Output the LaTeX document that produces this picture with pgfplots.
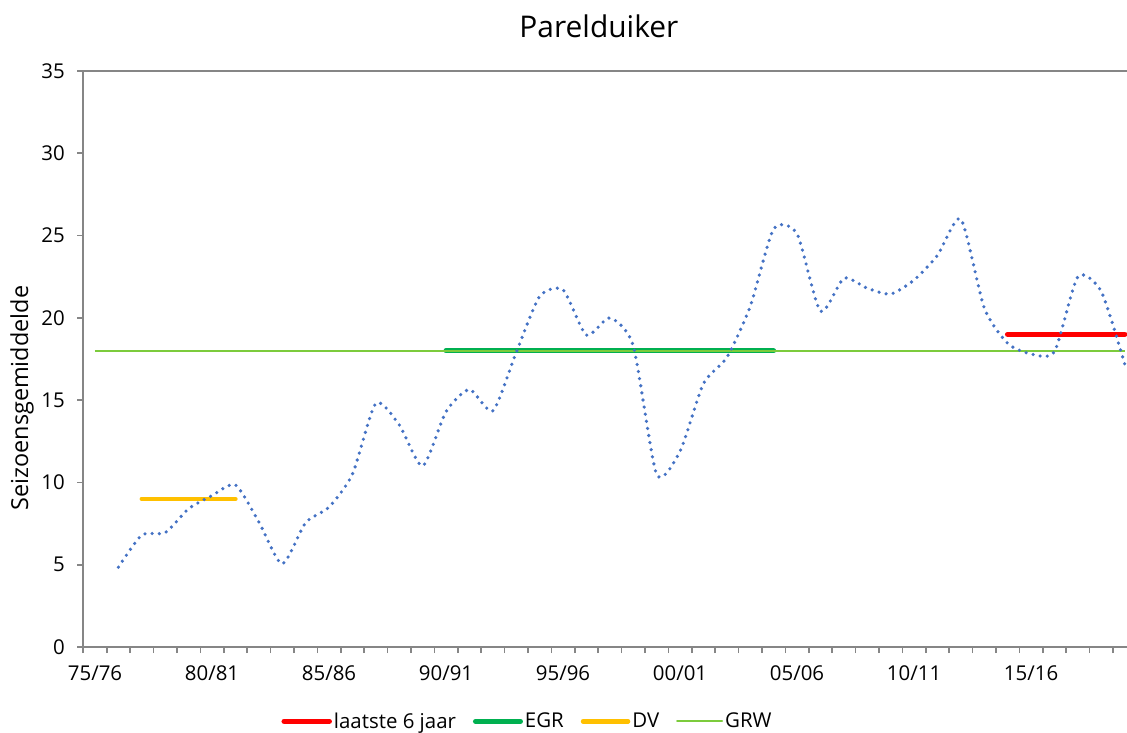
\documentclass[border=0pt]{standalone}
\usepackage{pgfplots}
\pgfplotsset{compat=1.18}
\usepackage{fontspec}
\setmainfont{Open Sans}
\definecolor{axgray}{HTML}{868686}
\definecolor{sblue}{HTML}{4472C4}
\definecolor{egr}{HTML}{00B050}
\definecolor{dv}{HTML}{FFC000}
\definecolor{grw}{HTML}{7CCB3C}
\begin{document}
\begin{tikzpicture}
\useasboundingbox (-83.3bp,-86bp) rectangle (1043.7bp,647bp);
\begin{axis}[
  at={(0,0)}, anchor=south west,
  width=1043.7bp, height=576bp, scale only axis,
  xmin=-0.5, xmax=44.1, ymin=0, ymax=35,
  axis x line*=bottom, axis y line*=left,
  x axis line style={-}, y axis line style={-},
  axis line style={axgray, line width=1.8bp},
  tick align=outside,
  every tick/.style={axgray, line width=1.6bp},
  major tick length=6bp, minor tick length=6bp,
  ytick={0,5,...,35},
  xtick={0,5,10,15,20,25,30,35,40},
  xticklabels={75/76,80/81,85/86,90/91,95/96,00/01,05/06,10/11,15/16},
  minor xtick={-0.5,0.5,1.5,2.5,3.5,4.5,5.5,6.5,7.5,8.5,9.5,10.5,11.5,12.5,13.5,14.5,15.5,16.5,17.5,18.5,19.5,20.5,21.5,22.5,23.5,24.5,25.5,26.5,27.5,28.5,29.5,30.5,31.5,32.5,33.5,34.5,35.5,36.5,37.5,38.5,39.5,40.5,41.5,42.5,43.5},
  major x tick style={draw=none},
  ticklabel style={font=\fontsize{20.5}{24}\selectfont, black},
  xticklabel shift={9bp},
  yticklabel style={xshift=-9bp},
  /pgf/number format/assume math mode=true,
  ylabel={Seizoensgemiddelde},
  ylabel style={at={(axis description cs:-0.0587,0.432)}, anchor=center, rotate=0, font=\fontsize{23.5}{28}\selectfont},
  title={Parelduiker},
  title style={at={(axis description cs:0.494,1.0486)}, anchor=base, font=\fontsize{30}{36}\selectfont},
  legend columns=4,
  legend style={at={(axis description cs:0.4256,-0.129)}, anchor=center, draw=none,
    font=\fontsize{20.5}{24}\selectfont,
    /tikz/every even column/.append style={column sep=15bp}},
  legend image code/.code={\draw[#1, line cap=round] (0bp,0bp) -- (45bp,0bp);},
  after end axis/.code={\draw[axgray, line width=1.8bp] (rel axis cs:0,1) -- (rel axis cs:1,1);},
]
\addplot[red, line width=5.5bp, line cap=round] coordinates {(39,19) (44,19)};
\addlegendentry{laatste 6 jaar}
\addplot[egr, line width=5bp, line cap=round] coordinates {(15,18) (29,18)};
\addlegendentry{EGR}
\addplot[dv, line width=4.5bp, line cap=round] coordinates {(2,9) (6,9)};
\addlegendentry{DV}
\addplot[grw, line width=2bp] coordinates {(0,18) (44,18)};
\addlegendentry{GRW}
\addplot[sblue, line width=3.6bp, line cap=round, dash pattern=on 0bp off 7.2bp, smooth, tension=0.4, forget plot] coordinates {
(1,4.85) (2,6.8) (3,6.95) (4,8.4) (5,9.2) (6,9.85) (7,7.6) (8,5.05) (9,7.55) (10,8.5)
(11,10.5) (12,14.8) (13,13.5) (14,11.0) (15,14.3) (16,15.65) (17,14.35) (18,17.9) (19,21.3) (20,21.7)
(21,18.95) (22,20.0) (23,18.3) (24,10.5) (25,11.9) (26,16.0) (27,17.6) (28,20.7) (29,25.4) (30,25.1)
(31,20.4) (32,22.4) (33,21.8) (34,21.45) (35,22.3) (36,23.8) (37,26.0) (38,20.6) (39,18.45) (40,17.8)
(41,17.95) (42,22.5) (43,21.6) (44,17.2)};
\end{axis}
\end{tikzpicture}
\end{document}
